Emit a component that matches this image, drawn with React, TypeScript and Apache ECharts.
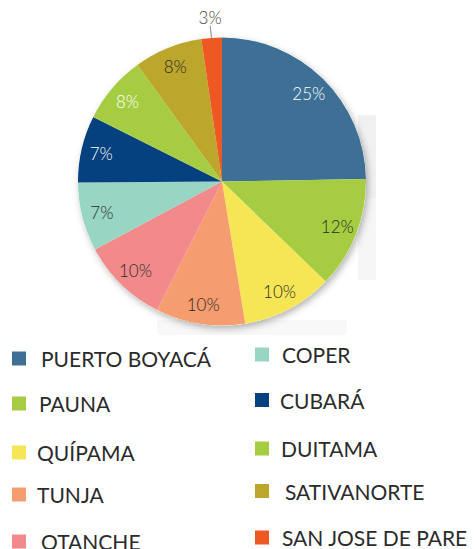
import React, { useEffect, useRef } from "react";
import * as echarts from "echarts";

const categories = [
  "PUERTO BOYACÁ",
  "PAUNA",
  "QUÍPAMA",
  "TUNJA",
  "OTANCHE",
  "COPER",
  "CUBARÁ",
  "DUITAMA",
  "SATIVANORTE",
  "SAN JOSE DE PARE",
];
const values = [24.7, 12.5, 10.2, 10.0, 9.75, 7.7, 7.5, 7.6, 7.7, 2.3];
const percentLabels = ["25%", "12%", "10%", "10%", "10%", "7%", "7%", "8%", "8%", "3%"];

const colors = [
  "#3e7096",
  "#a6cd42",
  "#f6e655",
  "#f59d6e",
  "#f28a8c",
  "#98d5c2",
  "#05407f",
  "#a6cd42",
  "#bca62b",
  "#ee5923",
];
const labelColors = ["#ffffff", "#2a2a2a", "#2a2a2a", "#2a2a2a", "#2a2a2a", "#2a2a2a", "#ffffff", "#ffffff", "#2a2a2a", "#444444"];

// legend slot layout (marker left, marker centre y, text gap)
const legendSlots = [
  { left: 12, cy: 358, pad: 10 },
  { left: 12, cy: 403, pad: 8 },
  { left: 12, cy: 452, pad: 6 },
  { left: 12, cy: 494, pad: 6 },
  { left: 12, cy: 541, pad: 10 },
  { left: 255, cy: 354, pad: 8 },
  { left: 255, cy: 399.5, pad: 6 },
  { left: 255, cy: 448, pad: 7 },
  { left: 255, cy: 490.5, pad: 11 },
  { left: 255, cy: 537, pad: 8 },
];

const CX = 222;
const CY = 181.5;
const R = 144;
const FONT = "Lato, 'Noto Sans', sans-serif";

export default function App() {
  const ref = useRef<HTMLDivElement>(null);
  useEffect(() => {
    document.body.style.margin = "0";
    const chart = echarts.init(ref.current!, null, { renderer: "svg" });
    const LEGEND_H = 20;
    const legends = categories.map((name, i) => ({
      data: [name],
      left: legendSlots[i].left,
      top: legendSlots[i].cy - LEGEND_H / 2,
      orient: "vertical",
      icon: "rect",
      itemWidth: 14,
      itemHeight: 14,
      padding: 0,
      selectedMode: false,
      textStyle: {
        fontFamily: FONT,
        fontSize: 21,
        fontWeight: "normal",
        color: "#2b2b2b",
        lineHeight: LEGEND_H,
        padding: [0, 0, 0, legendSlots[i].pad],
      },
    }));

    chart.setOption({
      animation: false,
      backgroundColor: "#ffffff",
      graphic: [
        {
          type: "rect",
          shape: { x: 358, y: 115, width: 18, height: 83 },
          style: { fill: "#f1f1f1" },
          z: 0,
        },
        {
          type: "rect",
          shape: { x: 358, y: 198, width: 18, height: 82 },
          style: { fill: "#f6f6f6" },
          z: 0,
        },
        {
          type: "rect",
          shape: { x: 157, y: 320, width: 190, height: 15 },
          style: { fill: "#f8f8f8" },
          z: 0,
        },
      ],
      legend: legends,
      series: [
        {
          type: "pie",
          name: "shadow",
          center: [CX, CY],
          radius: [0, R],
          silent: true,
          z: 1,
          label: { show: false },
          labelLine: { show: false },
          itemStyle: {
            color: "#ffffff",
            shadowBlur: 7,
            shadowColor: "rgba(0,0,0,0.3)",
            shadowOffsetX: 2,
            shadowOffsetY: 3,
          },
          data: [{ name: "_bg", value: 1 }],
        },
        {
          type: "pie",
          name: "main",
          center: [CX, CY],
          radius: [0, R],
          startAngle: 90,
          clockwise: true,
          z: 2,
          silent: true,
          emphasis: { disabled: true },
          label: { show: false },
          labelLine: { show: false },
          data: categories.map((name, i) => {
            const item: any = {
              name,
              value: values[i],
              itemStyle: { color: colors[i] },
            };
            if (i === 9) {
              item.label = {
                show: true,
                position: "outside",
                formatter: () => percentLabels[i],
                fontFamily: FONT,
                fontSize: 17,
                fontWeight: 300,
                color: labelColors[i],
              };
              item.labelLine = {
                show: true,
                length: 6,
                length2: 0,
                lineStyle: { color: "#999", width: 1.2 },
              };
            }
            return item;
          }),
          labelLayout: (params: any) => {
            if (params.dataIndex !== 9) return {};
            const pts = params.labelLinePoints;
            const end = pts ? pts[pts.length - 1] : [211, 32];
            return {
              x: end[0] - 1,
              y: end[1] - 6,
              align: "center",
              verticalAlign: "bottom",
            };
          },
        },
        {
          type: "pie",
          name: "labels",
          center: [CX, CY],
          radius: [R * 0.68, R],
          startAngle: 90,
          clockwise: true,
          z: 3,
          silent: true,
          emphasis: { disabled: true },
          labelLine: { show: false },
          itemStyle: { color: "rgba(0,0,0,0)" },
          data: categories.map((name, i) => ({
            name,
            value: values[i],
            itemStyle: { color: "rgba(0,0,0,0)" },
            label: {
              show: i !== 9,
              position: "inside",
              formatter: () => percentLabels[i],
              fontFamily: FONT,
              fontSize: 17,
              fontWeight: 300,
              color: labelColors[i],
            },
          })),
        },
      ],
    });
    return () => chart.dispose();
  }, []);
  return <div ref={ref} style={{ width: 475, height: 549 }} />;
}
